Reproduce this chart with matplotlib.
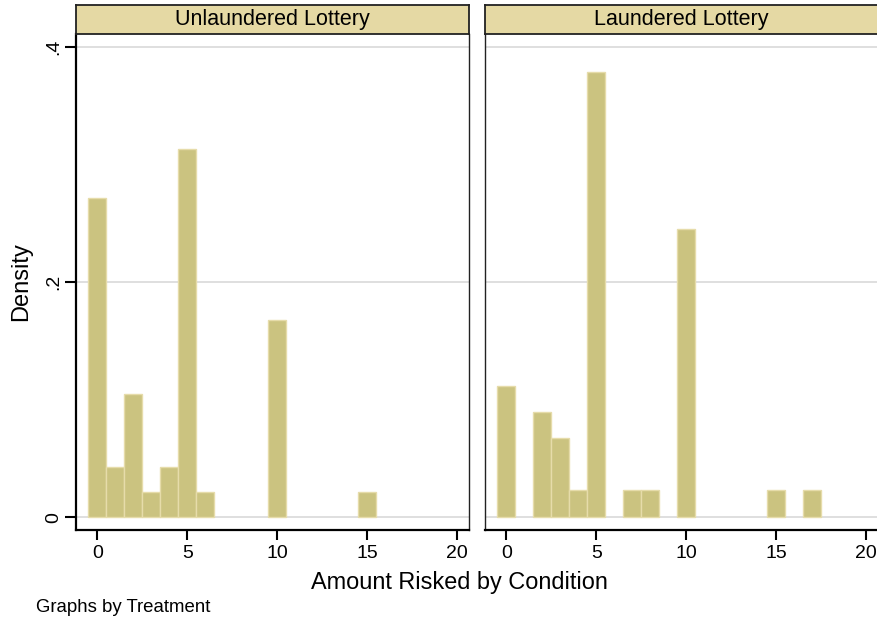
import matplotlib
matplotlib.use("Agg")
import matplotlib.pyplot as plt

plt.rcParams['font.family'] = ['Liberation Sans', 'DejaVu Sans']

# valeurs (densité par montant risqué)
panneaux = ["Unlaundered Lottery", "Laundered Lottery"]
x_non_blanchi = [0, 1, 2, 3, 4, 5, 6, 10, 15]
densite_non_blanchi = [0.2715, 0.0426, 0.1047, 0.0215, 0.0426, 0.313, 0.0215, 0.1677, 0.0215]
x_blanchi = [0, 2, 3, 4, 5, 7, 8, 10, 15, 17]
densite_blanchi = [0.1117, 0.0891, 0.067, 0.023, 0.3787, 0.023, 0.023, 0.245, 0.023, 0.023]
ticks_x = [0, 5, 10, 15, 20]
ticks_y = [0, 0.2, 0.4]
labels_y = ["0", ".2", ".4"]

couleur_barre = "#cbc380"
couleur_bord = "#e6dcaa"
couleur_bandeau = "#e5d9a4"
couleur_grille = "#dcdcdc"

W, H = 878, 622
fig = plt.figure(figsize=(W / 100, H / 100), dpi=100)

donnees = [(x_non_blanchi, densite_non_blanchi), (x_blanchi, densite_blanchi)]
gauches = [76, 485]
largeur = 393
haut, bas = 34, 530

for i, ((xs, ys), titre) in enumerate(zip(donnees, panneaux)):
    g = gauches[i]
    ax = fig.add_axes([g / W, 1 - bas / H, largeur / W, (bas - haut) / H])
    ax.bar(xs, ys, width=1.0, color=couleur_barre, edgecolor=couleur_bord, linewidth=1.0, zorder=3)
    ax.set_xlim(-1.19, 20.68)
    ax.set_ylim(-0.011, 0.411)
    for v in ticks_y:
        ax.axhline(v, color=couleur_grille, lw=1.3, zorder=1)
    ax.set_xticks(ticks_x)
    ax.set_xticklabels([str(t) for t in ticks_x], fontsize=14)
    ax.tick_params(axis='x', length=7, width=1.5, pad=4)
    ax.spines['bottom'].set_linewidth(1.6)
    ax.spines['top'].set_visible(False)
    ax.spines['right'].set_linewidth(1.0)
    ax.spines['right'].set_color("#222222")
    if i == 0:
        ax.set_yticks(ticks_y)
        ax.set_yticklabels(labels_y, fontsize=14, rotation=90, va='center')
        ax.tick_params(axis='y', length=8, width=1.5, pad=2)
        ax.spines['left'].set_linewidth(1.6)
        ax.set_ylabel("Density", fontsize=17, labelpad=9)
    else:
        ax.set_yticks([])
        ax.spines['left'].set_linewidth(1.0)
        ax.spines['left'].set_color("#222222")

    # bandeau du titre
    bande = fig.add_axes([g / W, 1 - 34 / H, largeur / W, 29 / H])
    bande.set_facecolor(couleur_bandeau)
    bande.set_xticks([])
    bande.set_yticks([])
    for s in bande.spines.values():
        s.set_linewidth(1.3)
        s.set_color("#222222")
    bande.text(0.5, 0.5, titre, ha='center', va='center', fontsize=15.5, transform=bande.transAxes)

fig.text(459 / W, 1 - 583 / H, "Amount Risked by Condition", ha='center', va='center', fontsize=16.9)
fig.text(36 / W, 1 - 608 / H, "Graphs by Treatment", ha='left', va='center', fontsize=13.4)

fig.savefig("out.png", dpi=100)
